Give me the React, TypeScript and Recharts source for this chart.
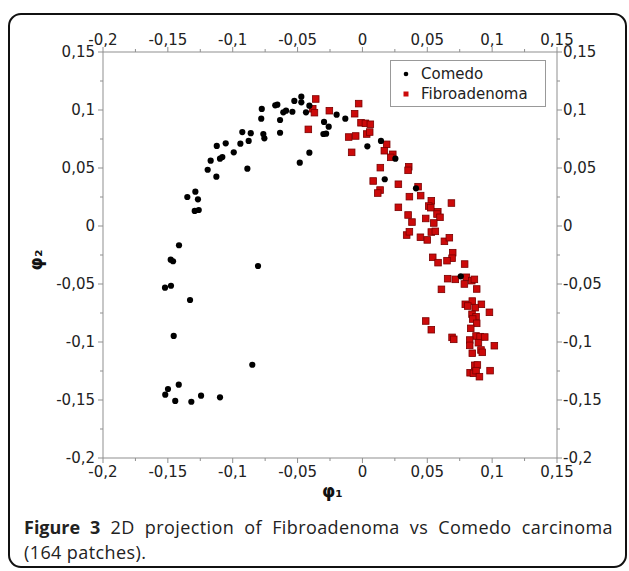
import React from 'react'
import { ScatterChart, Scatter, XAxis, YAxis, Legend } from 'recharts'

// Comedo patches, [phi1, phi2]
const comedo: [number, number][] = [
  [-0.135, 0.025], [-0.1288, 0.0296], [-0.1268, 0.023], [-0.1293, 0.013], [-0.1262, 0.0138],
  [-0.1193, 0.0485], [-0.117, 0.0563], [-0.1126, 0.0425], [-0.1123, 0.069], [-0.1098, 0.058],
  [-0.108, 0.0595], [-0.1054, 0.0713], [-0.0992, 0.0635], [-0.0941, 0.071], [-0.0926, 0.081],
  [-0.0887, 0.0494], [-0.0877, 0.0733], [-0.0861, 0.08], [-0.0776, 0.1009], [-0.078, 0.0925],
  [-0.0764, 0.0793], [-0.0756, 0.0756], [-0.0672, 0.104], [-0.0656, 0.1046], [-0.0635, 0.0914],
  [-0.0635, 0.0804], [-0.061, 0.098], [-0.0589, 0.0994], [-0.054, 0.0985], [-0.0525, 0.1078],
  [-0.0471, 0.1115], [-0.0471, 0.1066], [-0.0435, 0.098], [-0.0409, 0.1037], [-0.0483, 0.0546],
  [-0.0409, 0.0632], [-0.0296, 0.0897], [-0.026, 0.0856], [-0.0301, 0.0793], [-0.028, 0.0796],
  [-0.0199, 0.096], [-0.0132, 0.0925], [0.0038, 0.0687], [0.0143, 0.0733], [0.0254, 0.058],
  [0.0172, 0.0403], [0.0413, 0.0325], [0.0758, -0.0434],
  [-0.1414, -0.0166], [-0.1478, -0.029], [-0.146, -0.0304], [-0.0805, -0.0345], [-0.1522, -0.0532],
  [-0.1476, -0.0515], [-0.1329, -0.0638], [-0.1455, -0.0948], [-0.0849, -0.1196], [-0.1499, -0.1405],
  [-0.152, -0.1454], [-0.1416, -0.1368], [-0.1443, -0.1508], [-0.1319, -0.1515], [-0.1244, -0.1463],
  [-0.1098, -0.1477],
]

// Fibroadenoma patches, [phi1, phi2]
const fibroadenoma: [number, number][] = [
  [-0.036, 0.1095], [-0.0383, 0.1011], [-0.037, 0.0977], [-0.0255, 0.0994], [-0.0029, 0.1055],
  [-0.006, 0.0968], [-0.0417, 0.0833], [-0.0011, 0.089], [0.0023, 0.0885], [0.0061, 0.0877],
  [0.0033, 0.0793], [0.0056, 0.081], [-0.0106, 0.0767], [-0.0052, 0.0776], [-0.0083, 0.0635],
  [0.0187, 0.0704], [0.0169, 0.0649], [0.0234, 0.0618], [0.0218, 0.0592], [0.0138, 0.0503],
  [0.0357, 0.0511], [0.0352, 0.048], [0.0083, 0.0388], [0.0136, 0.031], [0.0118, 0.0284],
  [0.0277, 0.036], [0.0429, 0.0339], [0.0362, 0.0253], [0.0277, 0.0161], [0.0352, 0.0095],
  [0.0382, 0.0034], [0.0341, -0.0078], [0.0362, -0.005], [0.0449, 0.0262], [0.0531, 0.0218],
  [0.0511, 0.0172], [0.0527, 0.0158], [0.0581, 0.0123], [0.0575, 0.0103], [0.0598, 0.0075],
  [0.0686, 0.0198], [0.0488, 0.0065], [0.055, 0.0026], [0.0447, -0.0097], [0.05, -0.012],
  [0.0531, -0.0052], [0.0562, -0.0046], [0.0632, -0.0132], [0.067, -0.0101], [0.0542, -0.027],
  [0.0583, -0.0316], [0.0696, -0.023], [0.0691, -0.0278], [0.0652, -0.0299], [0.0788, -0.0328],
  [0.0657, -0.0454], [0.0716, -0.046], [0.0801, -0.0442], [0.0843, -0.0471], [0.0863, -0.046],
  [0.0786, -0.05], [0.0609, -0.0546], [0.0881, -0.0543], [0.0847, -0.0647], [0.0793, -0.0675],
  [0.0812, -0.069], [0.0917, -0.0675], [0.087, -0.0704], [0.0979, -0.0744], [0.0845, -0.0761],
  [0.0876, -0.0782], [0.085, -0.0802], [0.0881, -0.0839], [0.0835, -0.0882], [0.0488, -0.0819],
  [0.0531, -0.0894], [0.0691, -0.096], [0.0704, -0.0977], [0.0876, -0.0948], [0.0907, -0.0954],
  [0.0943, -0.0957], [0.0827, -0.0983], [0.0894, -0.1006], [0.0827, -0.1029], [0.1017, -0.1032],
  [0.0914, -0.1069], [0.0924, -0.1089], [0.0847, -0.1097], [0.0866, -0.1201], [0.0886, -0.1198],
  [0.083, -0.1265], [0.0856, -0.127], [0.0876, -0.1247], [0.0902, -0.1299], [0.0984, -0.1247],
]

const majorTicks = [-0.2, -0.15, -0.1, -0.05, 0, 0.05, 0.1, 0.15]
const minorTicks = [-0.175, -0.125, -0.075, -0.025, 0.025, 0.075, 0.125]
const allTicks = [...majorTicks, ...minorTicks].sort((a, b) => a - b)
const domain: [number, number] = [-0.2, 0.15]

const comedoData = comedo.map(([x, y]) => ({ x, y }))
const fibroData = fibroadenoma.map(([x, y]) => ({ x, y }))

// plot box inside the 629x510 svg
const CHART_W = 629
const CHART_H = 510
const PLOT = { left: 103, right: 557, top: 52, bottom: 458 }
const AX_H = 30 // reserved height of each x axis
const AX_W = 40 // reserved width of each y axis
const AXIS_COLOR = '#8f8f8f'
const TEXT_COLOR = '#222'
const FONT = '"DejaVu Sans", sans-serif'

const isMajor = (v: number) => majorTicks.some((m) => Math.abs(m - v) < 1e-9)
const fmt = (v: number) => String(v).replace('.', ',')

const labelProps = { fontFamily: FONT, fontSize: 15, fill: TEXT_COLOR }

const BottomTick = (props: any) => {
  const { x, payload } = props
  const major = isMajor(payload.value)
  return (
    <g>
      <line x1={x} x2={x} y1={PLOT.bottom} y2={PLOT.bottom + (major ? 5 : 3)} stroke={AXIS_COLOR} />
      {major && (
        <text x={x} y={PLOT.bottom + 18.5} textAnchor="middle" {...labelProps}>
          {fmt(payload.value)}
        </text>
      )}
    </g>
  )
}

const TopTick = (props: any) => {
  const { x, payload } = props
  const major = isMajor(payload.value)
  return (
    <g>
      <line x1={x} x2={x} y1={PLOT.top} y2={PLOT.top - (major ? 5 : 3)} stroke={AXIS_COLOR} />
      {major && (
        <text x={x} y={PLOT.top - 7} textAnchor="middle" {...labelProps}>
          {fmt(payload.value)}
        </text>
      )}
    </g>
  )
}

const LeftTick = (props: any) => {
  const { y, payload } = props
  const major = isMajor(payload.value)
  return (
    <g>
      <line x1={PLOT.left} x2={PLOT.left - (major ? 5 : 3)} y1={y} y2={y} stroke={AXIS_COLOR} />
      {major && (
        <text x={PLOT.left - 8} y={y} dy="0.36em" textAnchor="end" {...labelProps}>
          {fmt(payload.value)}
        </text>
      )}
    </g>
  )
}

const RightTick = (props: any) => {
  const { y, payload } = props
  const major = isMajor(payload.value)
  return (
    <g>
      <line x1={PLOT.right} x2={PLOT.right + (major ? 5 : 3)} y1={y} y2={y} stroke={AXIS_COLOR} />
      {major && (
        <text x={PLOT.right + 6} y={y} dy="0.3em" textAnchor="start" {...labelProps}>
          {fmt(payload.value)}
        </text>
      )}
    </g>
  )
}

const Dot = (p: any) => <circle cx={p.cx} cy={p.cy} r={3.1} fill="#000" />
const Square = (p: any) => (
  <rect x={p.cx - 3.3} y={p.cy - 3.3} width={6.6} height={6.6} fill="#cc0a0a" stroke="#7a0000" strokeWidth={0.8} />
)

const LegendBox = () => (
  <div
    style={{
      width: 156,
      height: 47,
      boxSizing: 'border-box',
      border: '1px solid #999',
      background: '#fff',
      fontFamily: FONT,
      fontSize: 15,
      color: TEXT_COLOR,
      padding: '3px 0 0 10px',
      lineHeight: '20px',
    }}
  >
    <div style={{ display: 'flex', alignItems: 'center' }}>
      <svg width={20} height={10}>
        <circle cx={5} cy={5} r={2.3} fill="#000" />
      </svg>
      <span>Comedo</span>
    </div>
    <div style={{ display: 'flex', alignItems: 'center' }}>
      <svg width={20} height={10}>
        <rect x={2.5} y={2.5} width={5} height={5} fill="#cc0a0a" />
      </svg>
      <span>Fibroadenoma</span>
    </div>
  </div>
)

const axisCommon = {
  type: 'number' as const,
  domain,
  ticks: allTicks,
  interval: 0,
  allowDataOverflow: true,
  tickLine: false,
  axisLine: { stroke: AXIS_COLOR },
}

export default function App() {
  return (
    <div style={{ position: 'absolute', left: 0, top: 0, width: 629, height: 571, overflow: 'hidden', background: '#fff' }}>
      <div
        style={{
          position: 'absolute',
          left: 8,
          top: 13,
          width: 619,
          height: 555,
          boxSizing: 'border-box',
          border: '2px solid #111',
          borderRadius: 13,
        }}
      />
      <div style={{ position: 'absolute', left: 0, top: 0 }}>
        <ScatterChart
          width={CHART_W}
          height={CHART_H}
          margin={{
            top: PLOT.top - AX_H,
            right: CHART_W - PLOT.right - AX_W,
            bottom: CHART_H - PLOT.bottom - AX_H,
            left: PLOT.left - AX_W,
          }}
        >
          <XAxis xAxisId="bottom" dataKey="x" orientation="bottom" height={AX_H} tick={BottomTick} {...axisCommon} />
          <XAxis xAxisId="top" dataKey="x" orientation="top" height={AX_H} tick={TopTick} {...axisCommon} />
          <YAxis yAxisId="left" dataKey="y" orientation="left" width={AX_W} tick={LeftTick} {...axisCommon} />
          <YAxis yAxisId="right" dataKey="y" orientation="right" width={AX_W} tick={RightTick} {...axisCommon} />
          <Legend
            layout="horizontal"
            verticalAlign="middle"
            align="center"
            content={LegendBox}
            wrapperStyle={{ left: 390, top: 60, width: 156 }}
          />
          <Scatter
            name="Fibroadenoma"
            data={fibroData}
            xAxisId="bottom"
            yAxisId="left"
            shape={Square}
            isAnimationActive={false}
          />
          <Scatter
            name="Comedo"
            data={comedoData}
            xAxisId="bottom"
            yAxisId="left"
            shape={Dot}
            isAnimationActive={false}
          />
          {/* keeps the top/right frame axes on the same scale */}
          <Scatter
            name="frame"
            data={comedoData}
            xAxisId="top"
            yAxisId="right"
            shape={() => <g />}
            legendType="none"
            isAnimationActive={false}
          />
        </ScatterChart>
      </div>
      <div
        style={{
          position: 'absolute',
          left: 322,
          top: 481,
          fontFamily: FONT,
          fontWeight: 'bold',
          fontSize: 17,
          color: '#111',
        }}
      >
        φ₁
      </div>
      <div
        style={{
          position: 'absolute',
          left: 26,
          top: 250,
          fontFamily: FONT,
          fontWeight: 'bold',
          fontSize: 17,
          color: '#111',
          transform: 'rotate(-90deg)',
        }}
      >
        φ₂
      </div>
      <div
        style={{
          position: 'absolute',
          left: 24,
          top: 515,
          width: 589,
          fontFamily: '"Open Sans", sans-serif',
          fontSize: 18,
          lineHeight: '25px',
          color: '#222',
        }}
      >
        <div style={{ textAlign: 'justify', textAlignLast: 'justify', letterSpacing: 0.4 }}>
          <b style={{ letterSpacing: 0 }}>Figure 3</b> 2D projection of Fibroadenoma vs Comedo carcinoma
        </div>
        <div style={{ letterSpacing: 0.4 }}>(164 patches).</div>
      </div>
    </div>
  )
}
